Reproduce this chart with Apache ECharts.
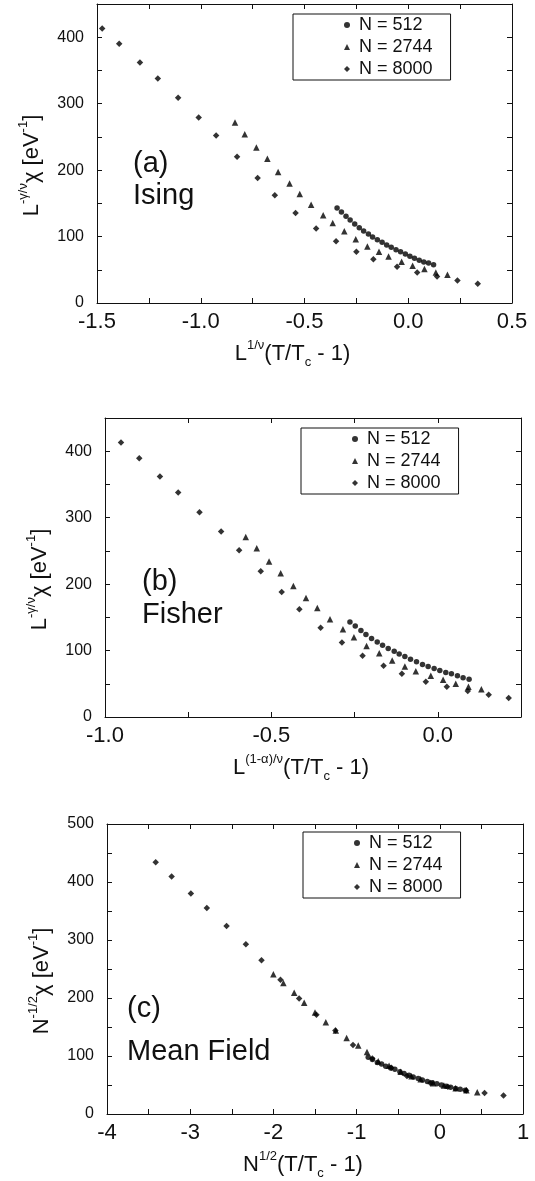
<!DOCTYPE html>
<html>
<head>
<meta charset="utf-8">
<script src="https://cdn.jsdelivr.net/npm/echarts@6/dist/echarts.min.js"></script>
<style>
html,body{margin:0;padding:0;background:#fff;}
#chart{width:535px;height:1181px;}
</style>
</head>
<body>
<div id="chart"></div>
<script>
// ---------- DATA ----------
const seriesNames = ['N = 512', 'N = 2744', 'N = 8000'];

// (a) Ising
const isingX512 = [-0.343,-0.322,-0.300,-0.280,-0.258,-0.236,-0.215,-0.192,-0.172,-0.149,-0.126,-0.104,-0.082,-0.059,-0.037,-0.014,0.008,0.030,0.053,0.075,0.098,0.122];
const isingY512 = [143,137,130.5,125,119,113.4,108.4,104,99.4,95.3,91.3,87.3,83.8,80.3,77.3,73.8,70.2,67.2,64.2,61.7,60.2,57.7];
const isingX2744 = [-0.835,-0.788,-0.732,-0.679,-0.627,-0.572,-0.523,-0.468,-0.410,-0.364,-0.308,-0.253,-0.197,-0.141,-0.095,-0.032,0.021,0.078,0.133,0.189];
const isingY2744 = [271.5,254,234,217,197,180,164,148,132,120.5,108,96,85,77,70,62,56,51,46,42.6];
const isingX8000 = [-1.475,-1.393,-1.293,-1.207,-1.109,-1.010,-0.926,-0.825,-0.726,-0.643,-0.543,-0.444,-0.348,-0.250,-0.168,-0.054,0.043,0.139,0.237,0.335];
const isingY8000 = [413,390,362,338,309,279,252,220,188,162,135.5,112,93,77,66,54.7,46,40,34,29];

// (b) Fisher
const fisherX512 = [-0.264,-0.248,-0.231,-0.216,-0.199,-0.182,-0.166,-0.149,-0.131,-0.116,-0.099,-0.082,-0.064,-0.046,-0.029,-0.011,0.006,0.024,0.041,0.059,0.076,0.094];
const fisherY512 = [143,137,130,124,118,113,108,103,99,95,91,87,83,79,76,73,70,67,65,62,59,57];
const fisherX2744 = [-0.577,-0.544,-0.507,-0.472,-0.434,-0.396,-0.362,-0.324,-0.285,-0.252,-0.214,-0.176,-0.137,-0.099,-0.066,-0.021,0.016,0.054,0.092,0.131];
const fisherY2744 = [271,254,234,216.5,197,179,164,147,132,120,107,96,85,76,69,62,56,50,45.6,41.6];
const fisherX8000 = [-0.952,-0.897,-0.835,-0.780,-0.716,-0.651,-0.597,-0.532,-0.469,-0.416,-0.352,-0.288,-0.226,-0.163,-0.108,-0.036,0.027,0.090,0.153,0.213];
const fisherY8000 = [413,389.5,362,338,308,279,251,219.5,188,162,134.5,112,92,77,65,53,45.5,39,33.5,28.6];

// (c) Mean Field
const mfX512 = [-0.86,-0.81,-0.75,-0.70,-0.65,-0.59,-0.54,-0.48,-0.43,-0.37,-0.32,-0.26,-0.21,-0.15,-0.09,-0.035,0.02,0.075,0.13,0.19,0.245,0.305];
const mfY512 = [98,94,89,86,82.5,79.5,77,73,70,67,64,61,58.5,56,54,52,50,48,46,44,42.5,41];
const mfX2744 = [-2.00,-1.88,-1.75,-1.63,-1.50,-1.37,-1.25,-1.12,-0.98,-0.875,-0.74,-0.61,-0.47,-0.34,-0.23,-0.08,0.05,0.19,0.32,0.45];
const mfY2744 = [241,226,209,192,175,158,144,131,118,107,91,83,73,65,60,53,49,44.5,41,37.6];
const mfX8000 = [-3.415,-3.223,-2.992,-2.800,-2.563,-2.331,-2.143,-1.915,-1.691,-1.483,-1.255,-1.043,-0.811,-0.583,-0.395,-0.114,0.097,0.318,0.538,0.766];
const mfY8000 = [434,409.6,380,355,324,292.7,265,231.5,199,171,144,119,95.5,79.7,65.6,53.3,47.1,40.5,36.4,32];

// axis ranges / tick steps
const xMin = [-1.5, -1.0, -4];
const xMax = [0.5, 0.25, 1];
const xTickStep = [0.25, 0.25, 0.5];
const xLabelStep = [0.5, 0.5, 1];
const yMax = [450, 450, 500];
const yTickStep = 50;
const yLabelStep = 100;

// texts
const xNames = [
  '{b|L}{sup|1/ν}{b|(T/T}{sub|c}{b| - 1)}',
  '{b|L}{sup|(1-α)/ν}{b|(T/T}{sub|c}{b| - 1)}',
  '{b|N}{sup|1/2}{b|(T/T}{sub|c}{b| - 1)}'
];
const yNames = [
  '{b|L}{sup|-γ/ν}{b|χ [eV}{sup|-1}{b|]}',
  '{b|L}{sup|-γ/ν}{b|χ [eV}{sup|-1}{b|]}',
  '{b|N}{sup|-1/2}{b|χ [eV}{sup|-1}{b|]}'
];
const panelTags = ['(a)', '(b)', '(c)'];
const panelModels = ['Ising', 'Fisher', 'Mean Field'];

// ---------- LAYOUT ----------
const FONT = '"Liberation Sans", Arial, Helvetica, sans-serif';
const INK = '#111';
const MARK = '#000';
const grids = [
  {left: 97, top: 4, width: 415, height: 299},
  {left: 105, top: 418, width: 416, height: 299},
  {left: 107, top: 824, width: 416, height: 297}
];
const legendPos = [{left: 293, top: 14}, {left: 301, top: 428}, {left: 303, top: 832}];
const tagPos = [
  {x: 133, y1: 165, y2: 197},
  {x: 142, y1: 583, y2: 616},
  {x: 127, y1: 1010, y2: 1053}
];

const rich = {
  b: {fontSize: 22, lineHeight: 30, fontFamily: FONT, color: INK},
  sup: {fontSize: 13, lineHeight: 13, verticalAlign: 'top', fontFamily: FONT, color: INK},
  sub: {fontSize: 13, lineHeight: 13, verticalAlign: 'bottom', fontFamily: FONT, color: INK}
};

function isMult(v, step) {
  const r = v / step;
  return Math.abs(r - Math.round(r)) < 1e-6;
}

const xAxes = [], yAxes = [], series = [], legends = [], graphics = [];
const symbols = ['circle', 'triangle', 'diamond'];
const symSizes = [5.5, 6.5, 6.5];
const panelData = [
  [[isingX512, isingY512], [isingX2744, isingY2744], [isingX8000, isingY8000]],
  [[fisherX512, fisherY512], [fisherX2744, fisherY2744], [fisherX8000, fisherY8000]],
  [[mfX512, mfY512], [mfX2744, mfY2744], [mfX8000, mfY8000]]
];

for (let p = 0; p < 3; p++) {
  const common = {
    gridIndex: p, type: 'value', min: xMin[p], max: xMax[p], interval: xTickStep[p],
    axisLine: {show: true, onZero: false, lineStyle: {color: INK, width: 1}},
    axisTick: {show: true, inside: true, length: 5, lineStyle: {color: INK}},
    splitLine: {show: false}
  };
  xAxes.push(Object.assign({}, common, {
    position: 'bottom',
    axisLabel: {
      show: true, fontSize: 22, fontFamily: FONT, color: INK, margin: 8,
      showMinLabel: true, showMaxLabel: true,
      formatter: (v) => {
        if (!isMult(v, xLabelStep[p])) return '';
        return p === 2 ? String(Math.round(v)) : v.toFixed(1);
      }
    },
    name: xNames[p], nameLocation: 'middle', nameGap: 36,
    nameTextStyle: {rich: rich, padding: [0, 24, 0, 0]}
  }));
  xAxes.push(Object.assign({}, common, {position: 'top', axisLabel: {show: false}}));

  const ycommon = {
    gridIndex: p, type: 'value', min: 0, max: yMax[p], interval: yTickStep,
    axisLine: {show: true, onZero: false, lineStyle: {color: INK, width: 1}},
    axisTick: {show: true, inside: true, length: 5, lineStyle: {color: INK}},
    splitLine: {show: false}
  };
  yAxes.push(Object.assign({}, ycommon, {
    position: 'left',
    axisLabel: {
      show: true, fontSize: 16, fontFamily: FONT, color: INK, margin: 13,
      formatter: (v) => isMult(v, yLabelStep) ? String(v) : ''
    },
    name: yNames[p], nameLocation: 'middle', nameGap: 50, nameRotate: 90,
    nameTextStyle: {rich: rich, padding: [0, 24, 0, 0]}
  }));
  yAxes.push(Object.assign({}, ycommon, {position: 'right', axisLabel: {show: false}}));

  for (let s = 0; s < 3; s++) {
    const xs = panelData[p][s][0], ys = panelData[p][s][1];
    series.push({
      type: 'scatter', name: seriesNames[s],
      xAxisIndex: 2 * p, yAxisIndex: 2 * p,
      symbol: symbols[s], symbolSize: symSizes[s],
      itemStyle: {color: MARK},
      data: xs.map((x, i) => [x, ys[i]]),
      silent: true, animation: false
    });
  }

  legends.push({
    data: seriesNames.map((n, i) => ({name: n, icon: symbols[i]})),
    orient: 'vertical', left: legendPos[p].left, top: legendPos[p].top,
    padding: [2, 18, 2, 51], itemGap: 4, itemWidth: 6, itemHeight: 6,
    borderColor: INK, borderWidth: 1, borderRadius: 0,
    selectedMode: false,
    textStyle: {fontSize: 18, lineHeight: 18, fontFamily: FONT, color: INK, padding: [0, 0, 0, 4]}
  });

  graphics.push({
    type: 'text', left: tagPos[p].x, top: tagPos[p].y1 - 16,
    style: {text: panelTags[p], font: '29px ' + FONT, fill: INK}
  });
  graphics.push({
    type: 'text', left: tagPos[p].x, top: tagPos[p].y2 - 16,
    style: {text: panelModels[p], font: '29px ' + FONT, fill: INK}
  });
}

const chart = echarts.init(document.getElementById('chart'), null, {renderer: 'canvas'});
chart.setOption({
  animation: false,
  backgroundColor: '#fff',
  grid: grids,
  xAxis: xAxes,
  yAxis: yAxes,
  legend: legends,
  graphic: graphics,
  series: series
});
</script>
</body>
</html>
